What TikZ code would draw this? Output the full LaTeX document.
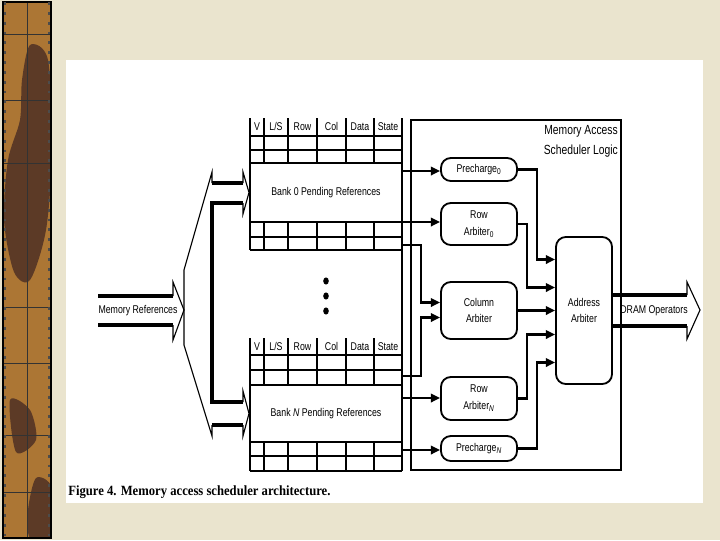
\documentclass[tikz,border=0pt]{standalone}
\usepackage{fontspec}
\setmainfont{Liberation Sans}[FakeStretch=0.78]
\newfontfamily\capfont{Liberation Serif}[FakeStretch=0.9]
\usetikzlibrary{arrows.meta,calc,positioning}
\definecolor{paper}{RGB}{234,228,206}
\definecolor{stripBrown}{RGB}{172,118,52}
\definecolor{stripDark}{RGB}{92,58,38}

\begin{document}
\begin{tikzpicture}[x=0.025cm,y=-0.025cm,
    arbBox/.style={draw=black,line width=1.3pt,rounded corners=7pt,minimum width=1.9cm,inner sep=1pt,align=center,font=\fontsize{8}{12}\selectfont},
    bankBox/.style={draw=black,line width=1.4pt,minimum width=3.8cm,font=\fontsize{8}{10}\selectfont},
    sig/.style={->,>={Triangle[length=2.3mm,width=2.1mm]},line width=1.6pt},
    gridLine/.style={line width=1.4pt},
    bus/.style={line width=2.2pt},
    busEdge/.style={line width=0.8pt,line join=miter},
    hdr/.style={font=\fontsize{8}{9}\selectfont,inner sep=0pt,anchor=base},
    lbl/.style={font=\fontsize{8}{10}\selectfont,inner sep=0pt},
]
\useasboundingbox (0,0) rectangle (720,540);
% slide background
\fill[paper] (0,0) rectangle (720,540);
\begin{scope}
  \clip (3,2) rectangle (51,538);
  \fill[stripBrown] (3,2) rectangle (51,538);
  \fill[stripDark] plot[smooth cycle] coordinates {(30,45) (48,60) (52,150) (46,230) (30,280) (14,272) (4,220) (8,160) (20,120) (22,80)};
  \fill[stripDark] plot[smooth cycle] coordinates {(10,400) (30,410) (36,440) (16,452)};
  \fill[stripDark] plot[smooth cycle] coordinates {(36,478) (52,488) (52,538) (30,538) (28,510)};
  \foreach \y in {34,100,163,307,363,435,492}
    \draw[black!80,line width=0.5pt] (3,\y) -- (51,\y);
  \draw[black!80,line width=0.5pt] (27,2) -- (27,538);
\end{scope}
\draw[black,line width=1.2pt] (3,2) rectangle (51,538);
\draw[black!70,line width=1pt,dash pattern=on 2pt off 5pt] (5,2) -- (5,538) (49,2) -- (49,538);
\fill[white] (66,60) rectangle (703,503);

% pending reference tables
\node[bankBox,minimum height=1.475cm] (bank0) at (326,192.5) {Bank 0 Pending References};
\node[bankBox,minimum height=1.425cm] (bankN) at (326,413.5) {Bank \textit{N} Pending References};
\foreach \y in {136,150,163,222,237,250}
  \draw[gridLine] (250,\y) -- (402,\y);
\foreach \y in {355,370,385,442,456,471}
  \draw[gridLine] (250,\y) -- (402,\y);
\foreach \x in {264,288,317,346,374} {
  \draw[gridLine] (\x,118) -- (\x,163);
  \draw[gridLine] (\x,222) -- (\x,250);
  \draw[gridLine] (\x,338) -- (\x,385);
  \draw[gridLine] (\x,442) -- (\x,471);
}
\draw[gridLine] (250,118) -- (250,250);
\draw[gridLine] (250,338) -- (250,471);
\draw[gridLine] (402,118) -- (402,471);
\foreach \x/\t [count=\i] in {257/V,276/{L/S},302.5/Row,331.5/Col,360/Data,388/State} {
  \node[hdr] (hdrA\i) at (\x,130.5) {\t};
  \node[hdr] (hdrB\i) at (\x,350) {\t};
}
\foreach \y in {281,296,311}
  \fill (326,\y) ellipse [x radius=0.07cm,y radius=0.09cm];

% incoming bus
\draw[bus] (98,296) -- (173,296);
\draw[bus] (98,325) -- (173,325);
\draw[busEdge] (173,296) -- (173,282) -- (184,310) -- (173,340) -- (173,325);
\node[lbl] (memRef) at (138,310.5) {Memory References};
\draw[busEdge] (212,183) -- (212,172) -- (184,270) -- (184,345) -- (212,436) -- (212,425);
\draw[busEdge] (243,183) -- (243,172) -- (bank0.west) -- (243,214) -- (243,203);
\draw[busEdge] (243,402) -- (243,391) -- (bankN.west) -- (243,436) -- (243,425);
\draw[bus] (212,183) -- (243,183);
\draw[bus] (243,203) -- (212,203) -- (212,402) -- (243,402);
\draw[bus] (212,425) -- (243,425);

% scheduler logic
\node[draw=black,line width=1.4pt,minimum width=5.25cm,minimum height=8.75cm] (sched) at (516,295) {};
\node[anchor=north east,align=right,inner sep=0pt,font=\fontsize{9.4}{14.2}\selectfont] (schedLbl) at (618,125) {Memory Access\\Scheduler Logic};
\node[arbBox,minimum height=0.575cm] (pre0) at (479,169.5) {Precharge\textsubscript{0}};
\node[arbBox,minimum height=1.05cm] (row0) at (479,224) {Row\\Arbiter\textsubscript{0}};
\node[arbBox,minimum height=1.425cm] (col) at (479,310.5) {Column\\Arbiter};
\node[arbBox,minimum height=1.075cm] (rowN) at (479,398.5) {Row\\Arbiter\textsubscript{\textit{N}}};
\node[arbBox,minimum height=0.625cm] (preN) at (479,448.5) {Precharge\textsubscript{\textit{N}}};
\node[arbBox,minimum width=1.4cm,minimum height=3.675cm] (adr) at (584,310.5) {Address\\Arbiter};

\coordinate (b0pre) at (402,171);
\coordinate (b0row) at (402,222);
\coordinate (b0col) at (402,245);
\coordinate (bNcol) at (402,376);
\coordinate (bNrow) at (402,398);
\coordinate (bNpre) at (402,450);
\draw[sig] (b0pre) -- (b0pre -| pre0.west);
\draw[sig] (b0row) -- (b0row -| row0.west);
\draw[sig] (b0col) -| ($(col.west)+(-19,-8)$) -- ($(col.west)+(0,-8)$);
\draw[sig] (bNcol) -| ($(col.west)+(-19,7)$) -- ($(col.west)+(0,7)$);
\draw[sig] (bNrow) -- (bNrow -| rowN.west);
\draw[sig] (bNpre) -- (bNpre -| preN.west);

\draw[sig] (pre0.east) -- ++(19,0) |- ($(adr.west)+(0,-51)$);
\draw[sig] (row0.east) -- ++(9,0) |- ($(adr.west)+(0,-23)$);
\draw[sig] (col.east) -- (adr.west);
\draw[sig] (rowN.east) -- ++(9,0) |- ($(adr.west)+(0,24)$);
\draw[sig] (preN.east) -- ++(19,0) |- ($(adr.west)+(0,52)$);

% outgoing bus
\draw[bus] (612,295) -- (687,295);
\draw[bus] (612,326) -- (687,326);
\draw[busEdge] (687,295) -- (687,282) -- (700,310) -- (687,339) -- (687,326);
\node[lbl] (dramOps) at (654,310.5) {DRAM Operators};

\node[anchor=west,inner sep=0pt,font=\capfont\bfseries\fontsize{10}{12}\selectfont] (caption) at (68,492) {Figure 4. Memory access scheduler architecture.};
\end{tikzpicture}
\end{document}
